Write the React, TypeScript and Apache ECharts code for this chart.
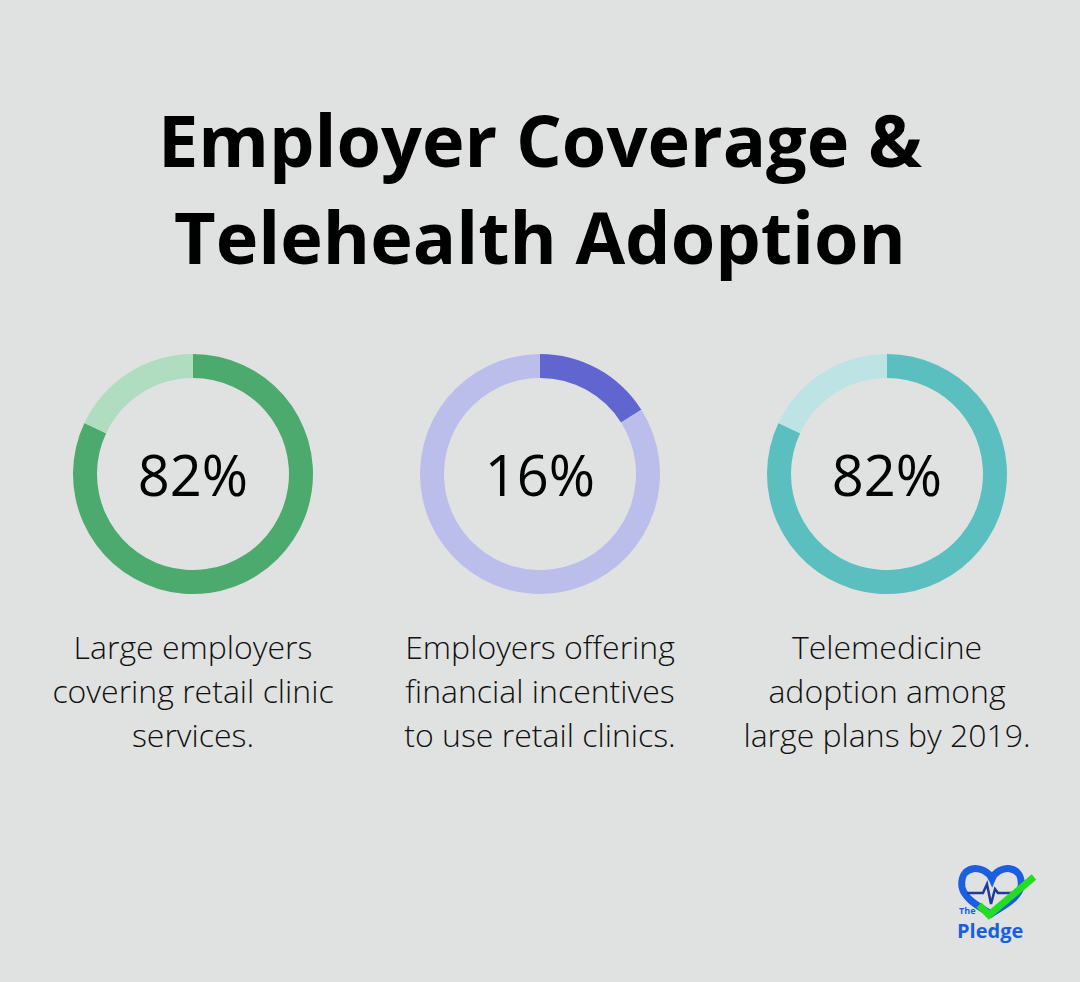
import React, { useEffect, useRef } from "react";
import * as echarts from "echarts";

const titleLines = ["Employer Coverage &", "Telehealth Adoption"];
const values = [82, 16, 82];
const valueLabels = ["82%", "16%", "82%"];
const descriptions = [
  ["Large employers", "covering retail clinic", "services."],
  ["Employers offering", "financial incentives", "to use retail clinics."],
  ["Telemedicine", "adoption among", "large plans by 2019."],
];
const darkColors = ["#4DAA6E", "#6065CF", "#5BBFC0"];
const lightColors = ["#B0DCC0", "#BBBEEA", "#BDE3E4"];

const centersX = [193, 540, 887];
const centerY = 474;

echarts.graphic.registerShape(
  "heartLogo",
  echarts.graphic.extendPath(
    "M992,879 C985,864 959,864 962,887 C964,899 980,907 991,914 C1002,907 1018,899 1021,887 C1024,864 998,864 992,879 Z",
    {}
  )
);
echarts.graphic.registerShape(
  "pulseLogo",
  echarts.graphic.extendPath(
    "M967,893 L983,893 L987,884 L991,904 L995,889 L998,893 L1014,893",
    {}
  )
);
echarts.graphic.registerShape(
  "checkLogo",
  echarts.graphic.extendPath("M979,905 L989,915 L1034,877", {})
);

export default function App() {
  const ref = useRef<HTMLDivElement>(null);
  useEffect(() => {
    if (!ref.current) return;
    const chart = echarts.init(ref.current, null, { renderer: "svg" });
    const series = values.map((v, i) => ({
      type: "pie",
      radius: [96, 120],
      center: [centersX[i], centerY],
      startAngle: 90,
      clockwise: true,
      silent: true,
      label: { show: false },
      labelLine: { show: false },
      emphasis: { disabled: true },
      data: [
        { value: v, itemStyle: { color: darkColors[i] } },
        { value: 100 - v, itemStyle: { color: lightColors[i] } },
      ],
    }));
    const graphics: any[] = [];
    titleLines.forEach((t, i) => {
      graphics.push({
        type: "text",
        x: 540,
        y: 139 + i * 97,
        style: {
          text: t,
          fill: "#000",
          font: "bold 72px 'Open Sans'",
          textAlign: "center",
          textVerticalAlign: "middle",
        },
      });
    });
    valueLabels.forEach((t, i) => {
      graphics.push({
        type: "text",
        x: centersX[i],
        y: centerY,
        style: {
          text: t,
          fill: "#000",
          font: "500 56px 'Open Sans'",
          textAlign: "center",
          textVerticalAlign: "middle",
        },
      });
    });
    descriptions.forEach((lines, i) => {
      lines.forEach((l, j) => {
        graphics.push({
          type: "text",
          x: centersX[i],
          y: 646 + j * 44,
          style: {
            text: l,
            fill: "#111",
            font: "300 32px 'Open Sans'",
            textAlign: "center",
            textVerticalAlign: "middle",
          },
        });
      });
    });
    graphics.push(
      {
        type: "heartLogo",
        style: { fill: "none", stroke: "#1A5FE0", lineWidth: 7 },
      },
      {
        type: "pulseLogo",
        style: { fill: "none", stroke: "#1F3C9C", lineWidth: 2.5, lineJoin: "miter" },
      },
      {
        type: "checkLogo",
        style: { fill: "none", stroke: "#22DD22", lineWidth: 7, lineCap: "butt" },
      },
      {
        type: "text",
        x: 959,
        y: 910,
        style: {
          text: "The",
          fill: "#1A5FE0",
          font: "bold 9px 'Open Sans'",
          textAlign: "left",
          textVerticalAlign: "middle",
        },
      },
      {
        type: "text",
        x: 957,
        y: 930,
        style: {
          text: "Pledge",
          fill: "#1A5FE0",
          font: "bold 20px 'Open Sans'",
          textAlign: "left",
          textVerticalAlign: "middle",
        },
      }
    );
    chart.setOption({
      animation: false,
      backgroundColor: "#E0E2E1",
      series,
      graphic: graphics,
    });
    return () => chart.dispose();
  }, []);
  return (
    <div
      ref={ref}
      style={{ position: "fixed", left: 0, top: 0, width: 1080, height: 982 }}
    />
  );
}
